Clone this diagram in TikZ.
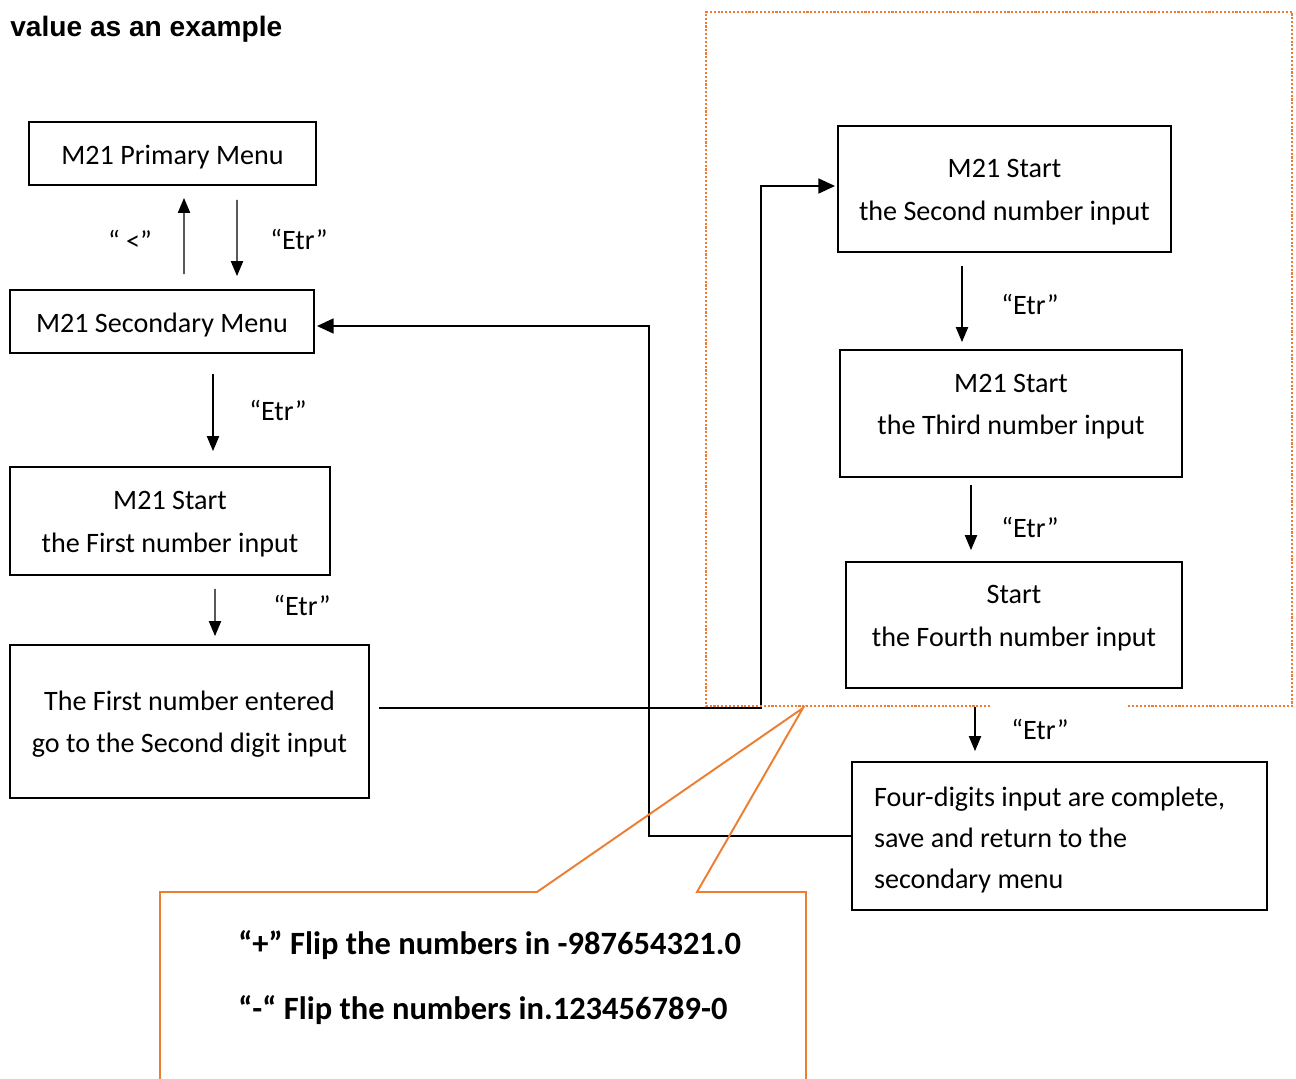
\documentclass[tikz,border=0pt]{standalone}
\usepackage{fontspec}
\setmainfont{Carlito}
\newfontfamily\headfont{Liberation Sans}
\usepackage{tikz}
\usetikzlibrary{calc,arrows.meta}
\definecolor{calloutorange}{RGB}{237,125,49}

\tikzset{
  menubox/.style={draw=black, line width=1.1pt, inner sep=0pt, align=center,
    font=\fontsize{16}{24}\selectfont},
  oneline/.style={menubox, text height=15.5pt},
  twoline/.style={menubox, text height=38pt},
  arr/.style={-{Triangle[length=8.5pt,width=7pt]}, line width=0.6pt},
  bigarr/.style={-{Triangle[length=9.5pt,width=8.5pt]}, line width=1.1pt},
  keylabel/.style={font=\fontsize{16}{18}\selectfont}
}

\begin{document}
\begin{tikzpicture}[x=0.02cm, y=-0.02cm]
  \useasboundingbox (0,0) rectangle (1296,1079);

  \node[anchor=west, inner sep=0pt, font=\headfont\bfseries\fontsize{16}{18}\selectfont] (title) at (10,29) {value as an example};

  \node[oneline, minimum width=5.74cm, minimum height=1.26cm] (prim) at (172.5,153.5) {M21 Primary Menu};
  \node[oneline, minimum width=6.08cm, minimum height=1.26cm] (sec) at (162,321.5) {M21 Secondary Menu};
  \node[twoline, minimum width=6.4cm, minimum height=2.16cm] (first) at (170,521) {M21 Start\\the First number input};
  \node[twoline, minimum width=7.18cm, minimum height=3.06cm] (entd) at (189.5,721.5) {The First number entered\\go to the Second digit input};
  \node[twoline, minimum width=6.66cm, minimum height=2.52cm] (second) at (1004.5,189) {M21 Start\\the Second number input};
  \node[twoline, minimum width=6.84cm, minimum height=2.54cm, text depth=14pt] (third) at (1011,413.5) {M21 Start\\the Third number input};
  \node[twoline, minimum width=6.72cm, minimum height=2.52cm, text depth=14pt] (fourth) at (1014,625) {Start\\the Fourth number input};
  \node[oneline, align=flush left, text width=7.42cm, inner xsep=0.44cm, minimum height=2.96cm, font=\fontsize{16}{23.5}\selectfont] (done) at (1059.5,836) {Four-digits input are complete,\\save and return to the\\secondary menu};

  \draw[arr] ($(prim.south)+(64.5,14)$) -- ($(sec.north)+(75,-13)$);
  \draw[arr] ($(sec.north)+(22,-15)$) -- ($(prim.south)+(11.5,12)$);
  \draw[arr] ($(sec.south)+(51,20)$) -- ($(first.north)+(43,-15)$);
  \draw[arr] ($(first.south)+(45,13)$) -- ($(entd.north)+(25.5,-8)$);
  \draw[bigarr] ($(entd.east)+(9,-13.5)$) -| ($(second.west)+(-76,-3)$) -- ($(second.west)+(-2,-3)$);
  \draw[arr] ($(second.south)+(-42.5,13)$) -- ($(third.north)+(-49,-7)$);
  \draw[arr] ($(third.south)+(-40,7)$) -- ($(fourth.north)+(-43,-11)$);
  \draw[arr] ($(fourth.south)+(-39,18)$) -- ($(done.north)+(-84.5,-10)$);
  \draw[bigarr] (done.west) -| ($(sec.east)+(334,4.5)$) -- ($(sec.east)+(2,4.5)$);

  \node[keylabel] (kprim) at (299,239) {“Etr”};
  \node[keylabel] (kback) at (130,240) {“ <”};
  \node[keylabel] (ksec) at (278,410) {“Etr”};
  \node[keylabel] (kfirst) at (302,605) {“Etr”};
  \node[keylabel] (ksecond) at (1030,304) {“Etr”};
  \node[keylabel] (kthird) at (1030,527) {“Etr”};
  \node[keylabel] (kfourth) at (1040,729) {“Etr”};

  \draw[calloutorange, line width=1.2pt, densely dotted] (990,706) -- (706,706) -- (706,12) -- (1292,12) -- (1292,706) -- (1128,706);

  \coordinate (tip) at (803,708);
  \draw[calloutorange, line width=1.1pt] (160,1090) -- (160,892) -- (537,892) -- (tip) -- (697,892) -- (806,892) -- (806,1090);
  \node[anchor=west, inner sep=0pt, font=\bfseries\fontsize{18.5}{20}\selectfont] (plus) at (238,945) {“+” Flip the numbers in -987654321.0};
  \node[anchor=west, inner sep=0pt, font=\bfseries\fontsize{18.5}{20}\selectfont] (minus) at (238,1010) {“-“ Flip the numbers in.123456789-0};
\end{tikzpicture}
\end{document}
